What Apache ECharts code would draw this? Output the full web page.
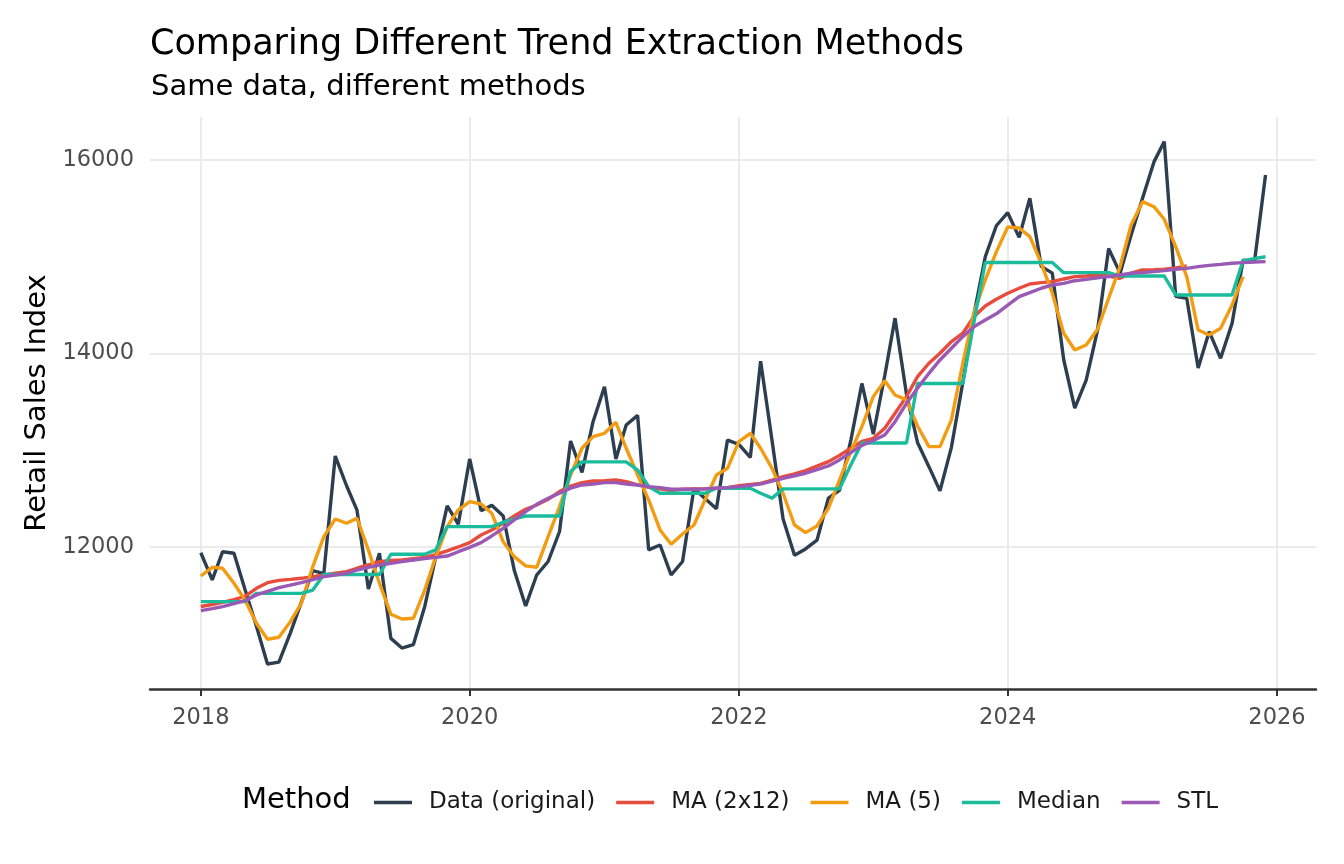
<!DOCTYPE html>
<html>
<head>
<meta charset="utf-8">
<title>Comparing Different Trend Extraction Methods</title>
<script src="https://cdn.jsdelivr.net/npm/echarts@6/dist/echarts.min.js"></script>
<style>
  html, body { margin: 0; padding: 0; background: #fff; }
  #chart { width: 1344px; height: 864px; }
</style>
</head>
<body>
<div id="chart"></div>
<script>
// 月份：2018-01 .. 2025-12（时间戳）
const months = []
for (let y = 2018; y < 2026; y++) {
  for (let m = 0; m < 12; m++) months.push(Date.UTC(y, m, 1))
}

const dataOriginal = [
  11940, 11660, 11950, 11935, 11560, 11180, 10790, 10810, 11110, 11430, 11755, 11725,
  12940, 12630, 12380, 11565, 11935, 11055, 10955, 10990, 11385, 11900, 12425, 12235,
  12910, 12375, 12430, 12320, 11760, 11390, 11710, 11850, 12160, 13095, 12770, 13295,
  13655, 12910, 13260, 13360, 11970, 12020, 11710, 11850, 12605, 12500, 12395, 13105,
  13060, 12925, 13920, 13100, 12290, 11915, 11980, 12070, 12505, 12585, 13105, 13690,
  13165, 13770, 14365, 13580, 13080, 12830, 12580, 13030, 13700, 14400, 15000, 15320,
  15455, 15200, 15605, 14900, 14830, 13935, 13435, 13725, 14245, 15085, 14830, 15225,
  15605, 15980, 16190, 14590, 14570, 13850, 14225, 13950, 14310, 14965, 14950, 15845
]

// MA (2x12)，到 2025-05 为止
const ma2x12 = [
  11385, 11405, 11428, 11455, 11490, 11573, 11631, 11655, 11665, 11676, 11693, 11710,
  11730, 11745, 11780, 11815, 11848, 11860, 11866, 11880, 11893, 11920, 11960, 12000,
  12045, 12124, 12176, 12245, 12320, 12390, 12434, 12493, 12572, 12630, 12665, 12682,
  12685, 12692, 12675, 12641, 12617, 12600, 12582, 12596, 12600, 12600, 12607, 12613,
  12634, 12645, 12657, 12690, 12727, 12755, 12789, 12835, 12882, 12945, 13020, 13090,
  13123, 13227, 13382, 13554, 13760, 13899, 14002, 14123, 14209, 14380, 14491, 14560,
  14622, 14674, 14718, 14732, 14742, 14770, 14794, 14800, 14811, 14800, 14777, 14829,
  14863, 14866, 14870, 14885, 14904
]

// MA (5)，到 2025-10 为止
const ma5 = [
  11700, 11790, 11780, 11625, 11452, 11211, 11046, 11067, 11228, 11418, 11797, 12107,
  12289, 12245, 12297, 11969, 11625, 11304, 11256, 11263, 11555, 11900, 12210, 12382,
  12468, 12444, 12348, 12055, 11900, 11804, 11790, 12107, 12417, 12744, 13020, 13140,
  13175, 13289, 13020, 12744, 12486, 12176, 12028, 12134, 12227, 12486, 12744, 12813,
  13088, 13175, 13020, 12813, 12555, 12227, 12148, 12217, 12400, 12692, 12985, 13244,
  13554, 13719, 13571, 13520, 13250, 13037, 13037, 13313, 13899, 14419, 14760, 15050,
  15307, 15297, 15207, 14932, 14622, 14209, 14036, 14088, 14250, 14571, 14897, 15328,
  15569, 15517, 15387, 15104, 14794, 14243, 14191, 14260, 14501, 14794
]

const medianTrend = [
  11435, 11435, 11435, 11435, 11435, 11520, 11520, 11520, 11520, 11520, 11555, 11715,
  11715, 11715, 11715, 11715, 11715, 11925, 11925, 11925, 11925, 11970, 12210, 12210,
  12210, 12210, 12210, 12255, 12290, 12320, 12320, 12320, 12320, 12780, 12880, 12880,
  12880, 12880, 12880, 12795, 12625, 12555, 12555, 12555, 12555, 12555, 12607, 12607,
  12607, 12607, 12555, 12505, 12600, 12600, 12600, 12600, 12600, 12600, 12850, 13075,
  13075, 13075, 13075, 13075, 13690, 13690, 13690, 13690, 13690, 14320, 14940, 14940,
  14940, 14940, 14940, 14940, 14940, 14835, 14835, 14835, 14835, 14835, 14800, 14800,
  14800, 14800, 14800, 14605, 14605, 14605, 14605, 14605, 14605, 14960, 14980, 15000
]

const stlTrend = [
  11342, 11362, 11383, 11414, 11445, 11504, 11540, 11579, 11605, 11631, 11662, 11693,
  11710, 11728, 11762, 11790, 11814, 11830, 11848, 11865, 11880, 11893, 11906, 11951,
  11996, 12045, 12114, 12193, 12280, 12365, 12441, 12503, 12555, 12607, 12641, 12651,
  12665, 12665, 12651, 12641, 12624, 12613, 12596, 12596, 12596, 12600, 12607, 12613,
  12624, 12637, 12650, 12680, 12710, 12736, 12762, 12800, 12837, 12900, 12975, 13050,
  13100, 13158, 13295, 13485, 13640, 13795, 13933, 14054, 14174, 14277, 14346, 14410,
  14500, 14587, 14629, 14674, 14708, 14725, 14752, 14766, 14783, 14794, 14811, 14829,
  14835, 14846, 14856, 14870, 14880, 14897, 14911, 14921, 14932, 14939, 14946, 14949
]

const methodNames = ['Data (original)', 'MA (2x12)', 'MA (5)', 'Median', 'STL']
const methodColors = ['#2c3e50', '#e74c3c', '#f39c12', '#1abc9c', '#9b59b6']
const xTickYears = [2018, 2020, 2022, 2024, 2026]
const yTicks = [12000, 14000, 16000]

const FONT = 'DejaVu Sans'

/* 把数值和月份拼成 [time, value] */
const toPoints = vals => vals.map((v, i) => [months[i], v])

const seriesValues = [dataOriginal, ma2x12, ma5, medianTrend, stlTrend]
const xTickStamps = xTickYears.map(y => Date.UTC(y, 0, 1))

const chart = echarts.init(document.getElementById('chart'), null, { renderer: 'canvas' })

chart.setOption({
  animation: false,
  backgroundColor: '#ffffff',
  textStyle: { fontFamily: FONT },
  title: [
    {
      text: 'Comparing Different Trend Extraction Methods',
      left: 145,
      top: 22,
      textStyle: { fontFamily: FONT, fontSize: 35, fontWeight: 'normal', color: '#000' }
    },
    {
      text: 'Same data, different methods',
      left: 146,
      top: 68,
      textStyle: { fontFamily: FONT, fontSize: 29, fontWeight: 'normal', color: '#000' }
    }
  ],
  grid: { left: 150, right: 28, top: 117, bottom: 175 },
  xAxis: {
    // 用数值轴放时间戳，刻度自己指定
    type: 'value',
    min: Date.UTC(2017, 7, 16),
    max: Date.UTC(2026, 3, 17),
    axisLine: { show: true, lineStyle: { color: '#333333', width: 2.5 } },
    axisTick: {
      show: true,
      length: 7,
      lineStyle: { color: '#333333', width: 2 },
      customValues: xTickStamps
    },
    axisLabel: {
      customValues: xTickStamps,
      formatter: v => String(new Date(v).getUTCFullYear()),
      color: '#4d4d4d',
      fontSize: 22.5,
      fontFamily: FONT,
      margin: 18
    },
    splitLine: { show: true, lineStyle: { color: '#ebebeb', width: 2 } }
  },
  yAxis: {
    type: 'value',
    min: 10532,
    max: 16444,
    name: 'Retail Sales Index',
    nameLocation: 'middle',
    nameGap: 87,
    nameTextStyle: { fontFamily: FONT, fontSize: 29, color: '#000' },
    axisLine: { show: false },
    axisTick: { show: false, customValues: yTicks },
    axisLabel: {
      customValues: yTicks,
      formatter: v => String(v),
      color: '#4d4d4d',
      fontSize: 22.5,
      fontFamily: FONT,
      margin: 16
    },
    splitLine: { show: true, lineStyle: { color: '#ebebeb', width: 2 } }
  },
  legend: {
    data: methodNames,
    left: 369,
    top: 786,
    icon: 'rect',
    itemWidth: 38,
    itemHeight: 3.5,
    itemGap: 21,
    textStyle: { fontFamily: FONT, fontSize: 23, color: '#1a1a1a', padding: [0, 0, 0, 12] }
  },
  graphic: [
    {
      type: 'text',
      x: 242,
      y: 800,
      style: { text: 'Method', font: '29px "DejaVu Sans"', fill: '#000', verticalAlign: 'middle' }
    }
  ],
  series: methodNames.map((name, k) => ({
    name,
    type: 'line',
    data: toPoints(seriesValues[k]),
    showSymbol: false,
    symbol: 'none',
    color: methodColors[k],
    lineStyle: { width: 3.4, color: methodColors[k] }
  }))
})
</script>
</body>
</html>
